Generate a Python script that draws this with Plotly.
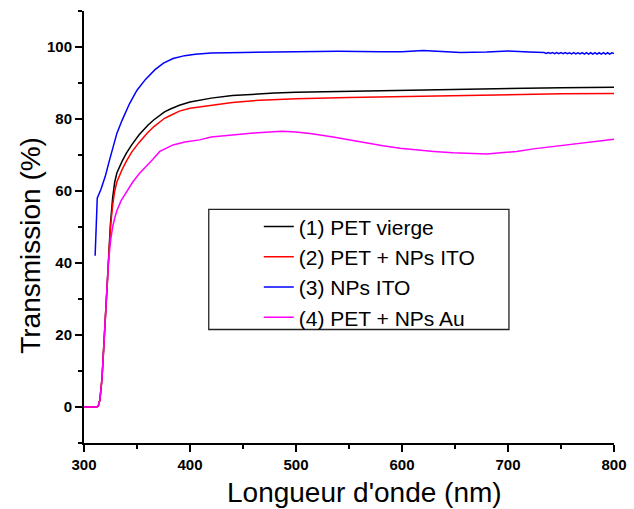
import plotly.graph_objects as go

# ---------------- data ----------------
wl_pet = [300, 312, 313.5, 315, 317, 319, 321, 323, 325, 327,
          329, 331, 333, 336, 340, 345, 352, 360, 366, 371,
          376, 381, 390, 400, 410, 420, 440, 460, 480, 500,
          550, 600, 650, 700, 750, 800]

t_pet_vierge = [0, 0, 0.3, 2, 8, 19, 30, 41, 51, 58,
                62.5, 65, 66.5, 68.3, 70.5, 72.8, 75.6, 78.2, 79.8, 81.0,
                82.0, 82.7, 83.8, 84.7, 85.3, 85.8, 86.5, 86.9, 87.2, 87.4,
                87.7, 87.9, 88.2, 88.5, 88.7, 88.8]

t_pet_ito = [0, 0, 0.3, 2, 8, 19, 30, 41, 50, 56,
             60, 62.5, 64, 66, 68.3, 70.8, 73.5, 76.2, 77.9, 79.0,
             80.2, 80.9, 82.2, 83.0, 83.4, 83.8, 84.6, 85.1, 85.4, 85.6,
             86.0, 86.3, 86.6, 86.8, 87.0, 87.1]

wl_ito = [310.5, 311.5, 312.5, 316, 320, 324, 327, 331, 336, 343,
          350, 358, 367, 375, 384, 395, 405, 420, 450, 500,
          540, 580, 600, 620, 640, 655, 680, 700, 720, 730,
          734, 736, 738, 740, 742, 744, 746, 748, 750, 752,
          754, 756, 758, 760, 762, 764, 766, 768, 770, 772,
          774, 776, 778, 780, 782, 784, 786, 788, 790, 792,
          794, 796, 798, 800]

t_ito = [42, 50, 58, 60.5, 64, 68.5, 72, 76, 79.7, 84.3,
         88, 91, 93.7, 95.5, 96.8, 97.6, 98.0, 98.3, 98.5, 98.7,
         98.8, 98.7, 98.7, 99.0, 98.8, 98.5, 98.6, 98.9, 98.6, 98.4,
         98.45, 98.2, 98.45, 98.2, 98.45, 98.15, 98.45, 98.15, 98.45, 98.15,
         98.45, 98.15, 98.4, 98.1, 98.45, 98.1, 98.4, 98.1, 98.45, 98.05,
         98.45, 98.05, 98.4, 98.0, 98.45, 98.0, 98.4, 98.0, 98.45, 98.0,
         98.4, 98.0, 98.4, 98.2]

wl_au = [300, 312, 313.5, 315, 317, 319, 321, 323, 325, 327,
         329, 331, 335, 340, 346, 352, 359, 365, 371.5, 378,
         384, 395, 409, 420, 440, 460, 475, 487, 500, 515,
         535, 550, 567, 582, 598, 614, 630, 648, 667, 680,
         693, 708, 724, 740, 755, 770, 785, 800]

t_pet_au = [0, 0, 0.3, 2, 8, 19, 30, 40, 46, 50,
            52.5, 54.5, 57.3, 59.8, 62.5, 64.8, 66.8, 68.8, 71.0, 72.0,
            72.8, 73.6, 74.2, 75.0, 75.6, 76.1, 76.4, 76.6, 76.4, 75.9,
            75.0, 74.2, 73.3, 72.6, 71.9, 71.4, 71.0, 70.6, 70.3, 70.3,
            70.6, 71.0, 71.7, 72.3, 72.8, 73.4, 73.9, 74.4]

names = ["(1) PET vierge", "(2) PET + NPs ITO", "(3) NPs ITO", "(4) PET + NPs Au"]
colors = ["#000000", "#FF0000", "#0000FF", "#FF00FF"]

x_title = "Longueur d'onde (nm)"
y_title = "Transmission (%)"

FONT = "Arial, 'Liberation Sans', sans-serif"

# ---------------- figure ----------------
fig = go.Figure()
series = [(wl_pet, t_pet_vierge), (wl_pet, t_pet_ito), (wl_ito, t_ito), (wl_au, t_pet_au)]
for (xs, ys), nm, col in zip(series, names, colors):
    fig.add_trace(go.Scatter(x=xs, y=ys, mode="lines", name=nm,
                             line=dict(color=col, width=1.5)))

axis_common = dict(
    showline=True, linewidth=2, linecolor="black",
    ticks="outside", ticklen=7, tickwidth=2, tickcolor="black",
    showgrid=False, zeroline=False, mirror=False,
    tickfont=dict(family=FONT, size=15, color="black", weight="bold"),
)

fig.update_xaxes(range=[300, 800], tick0=300, dtick=100,
                 minor=dict(ticks="outside", ticklen=4, tickwidth=2, tickcolor="black",
                            tick0=300, dtick=50, showgrid=False),
                 **axis_common)
fig.update_yaxes(range=[-10, 110], tick0=0, dtick=20,
                 minor=dict(ticks="outside", ticklen=4, tickwidth=2, tickcolor="black",
                            tick0=0, dtick=10, showgrid=False),
                 **axis_common)

fig.update_layout(
    width=634, height=509,
    margin=dict(l=84, r=20, t=11, b=66, autoexpand=False),
    plot_bgcolor="white", paper_bgcolor="white",
    font=dict(family=FONT, color="black"),
    showlegend=True,
    legend=dict(x=0.3298, y=0.548, xanchor="left", yanchor="top",
                bgcolor="rgba(0,0,0,0)", borderwidth=0,
                font=dict(family=FONT, size=21, color="black")),
    shapes=[dict(type="rect", xref="paper", yref="paper",
                 x0=0.2354, x1=0.8018, y0=0.2627, y1=0.5409,
                 line=dict(color="#222222", width=1.3), fillcolor="rgba(0,0,0,0)")],
    annotations=[
        dict(text=x_title, xref="paper", yref="paper", x=0.530, y=-0.115,
             xanchor="center", yanchor="middle", showarrow=False,
             font=dict(family=FONT, size=28, color="black")),
        dict(text=y_title, xref="paper", yref="paper", x=-0.1025, y=0.458,
             xanchor="center", yanchor="middle", showarrow=False, textangle=-90,
             font=dict(family=FONT, size=28, color="black")),
    ],
)

fig.write_html("out.html", config={"displayModeBar": False},
               post_script="document.body.style.margin='0';document.body.style.padding='0';")
